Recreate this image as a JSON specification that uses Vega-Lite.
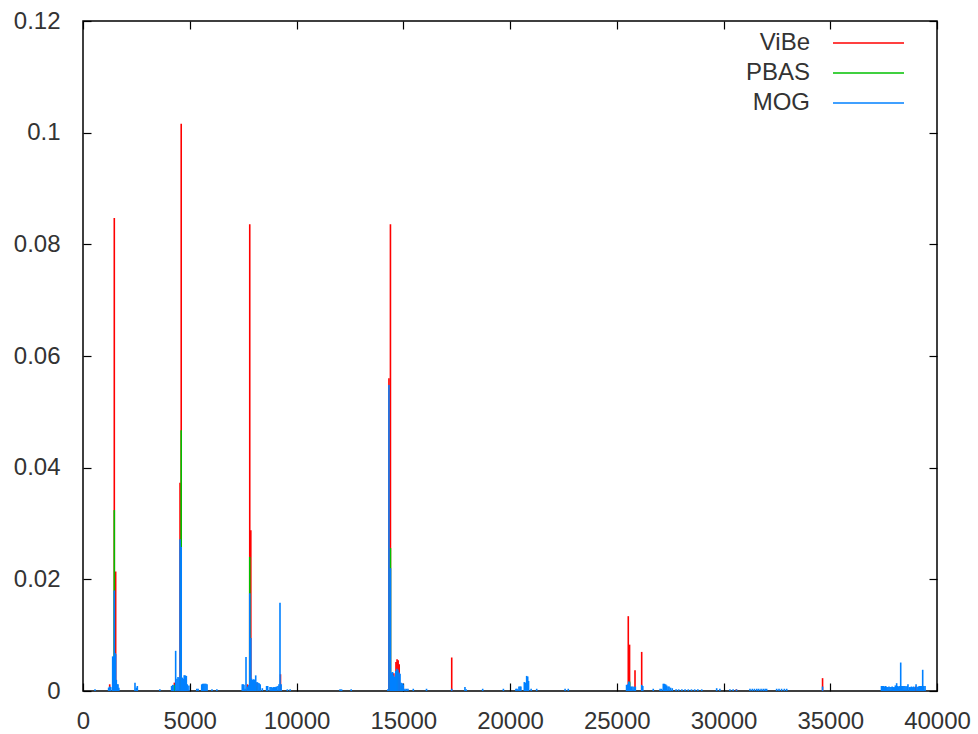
{
  "$schema": "https://vega.github.io/schema/vega-lite/v6.json",
  "autosize": {"type": "none"},
  "width": 854,
  "height": 670,
  "padding": {"left": 83, "top": 21, "right": 41, "bottom": 43},
  "background": "white",
  "config": {
    "view": {"stroke": "#000", "strokeWidth": 1.5},
    "font": "Liberation Sans",
    "axis": {
      "grid": false,
      "domain": false,
      "tickColor": "#000",
      "tickSize": -8,
      "tickWidth": 1.2,
      "labelFlush": false,
      "labelOverlap": false,
      "labelFont": "Liberation Sans",
      "labelFontSize": 24,
      "labelColor": "#333333",
      "title": null
    }
  },
  "data": {
    "values": [
      {"s":"ViBe","x":1250,"v":0.0012},{"s":"ViBe","x":1466,"v":0.0847},{"s":"ViBe","x":1530,"v":0.0214},{"s":"ViBe","x":4280,"v":0.0015},{"s":"ViBe","x":4545,"v":0.0373},{"s":"ViBe","x":4600,"v":0.1016},{"s":"ViBe","x":4780,"v":0.0015},{"s":"ViBe","x":7700,"v":0.0012},{"s":"ViBe","x":7810,"v":0.0836},{"s":"ViBe","x":7860,"v":0.0288},{"s":"ViBe","x":8150,"v":0.0015},{"s":"ViBe","x":9250,"v":0.003},{"s":"ViBe","x":14330,"v":0.056},{"s":"ViBe","x":14400,"v":0.0836},{"s":"ViBe","x":14560,"v":0.0032},{"s":"ViBe","x":14660,"v":0.0052},{"s":"ViBe","x":14710,"v":0.0057},{"s":"ViBe","x":14760,"v":0.0055},{"s":"ViBe","x":14810,"v":0.0048},{"s":"ViBe","x":17270,"v":0.006},{"s":"ViBe","x":25540,"v":0.0134},{"s":"ViBe","x":25600,"v":0.0083},{"s":"ViBe","x":25855,"v":0.0037},{"s":"ViBe","x":26168,"v":0.007},{"s":"ViBe","x":30600,"v":0.0003},{"s":"ViBe","x":34640,"v":0.0023},{"s":"ViBe","x":39000,"v":0.0008},
      {"s":"PBAS","x":1250,"v":0.0007},{"s":"PBAS","x":1466,"v":0.0324},{"s":"PBAS","x":4280,"v":0.0011},{"s":"PBAS","x":4600,"v":0.0467},{"s":"PBAS","x":4700,"v":0.0006},{"s":"PBAS","x":7810,"v":0.024},{"s":"PBAS","x":8100,"v":0.0008},{"s":"PBAS","x":14400,"v":0.0256},{"s":"PBAS","x":14450,"v":0.0016},{"s":"PBAS","x":14700,"v":0.0036},{"s":"PBAS","x":14900,"v":0.001},{"s":"PBAS","x":25600,"v":0.0017},
      {"s":"MOG","x":562,"v":0.0003},{"s":"MOG","x":1200,"v":0.0006},{"s":"MOG","x":1250,"v":0.0008},{"s":"MOG","x":1300,"v":0.0007},{"s":"MOG","x":1390,"v":0.0062},{"s":"MOG","x":1420,"v":0.006},{"s":"MOG","x":1440,"v":0.0062},{"s":"MOG","x":1466,"v":0.018},{"s":"MOG","x":1500,"v":0.0068},{"s":"MOG","x":1530,"v":0.0066},{"s":"MOG","x":1560,"v":0.002},{"s":"MOG","x":1600,"v":0.0012},{"s":"MOG","x":1640,"v":0.0012},{"s":"MOG","x":1680,"v":0.0006},{"s":"MOG","x":2435,"v":0.0015},{"s":"MOG","x":2500,"v":0.0006},{"s":"MOG","x":2545,"v":0.0009},{"s":"MOG","x":3600,"v":0.0003},{"s":"MOG","x":4150,"v":0.0009},{"s":"MOG","x":4200,"v":0.0011},{"s":"MOG","x":4240,"v":0.001},{"s":"MOG","x":4340,"v":0.0072},{"s":"MOG","x":4400,"v":0.0022},{"s":"MOG","x":4450,"v":0.0025},{"s":"MOG","x":4500,"v":0.0024},{"s":"MOG","x":4545,"v":0.0272},{"s":"MOG","x":4600,"v":0.0258},{"s":"MOG","x":4650,"v":0.0024},{"s":"MOG","x":4700,"v":0.0022},{"s":"MOG","x":4740,"v":0.0028},{"s":"MOG","x":4790,"v":0.0028},{"s":"MOG","x":4840,"v":0.0027},{"s":"MOG","x":4880,"v":0.0012},{"s":"MOG","x":4960,"v":0.001},{"s":"MOG","x":5330,"v":0.0004},{"s":"MOG","x":5390,"v":0.0004},{"s":"MOG","x":5560,"v":0.0012},{"s":"MOG","x":5610,"v":0.0013},{"s":"MOG","x":5660,"v":0.0013},{"s":"MOG","x":5710,"v":0.0013},{"s":"MOG","x":5760,"v":0.0013},{"s":"MOG","x":5810,"v":0.0012},{"s":"MOG","x":6040,"v":0.0003},{"s":"MOG","x":6270,"v":0.0003},{"s":"MOG","x":7460,"v":0.0012},{"s":"MOG","x":7500,"v":0.0012},{"s":"MOG","x":7540,"v":0.0011},{"s":"MOG","x":7590,"v":0.0004},{"s":"MOG","x":7635,"v":0.0061},{"s":"MOG","x":7700,"v":0.0008},{"s":"MOG","x":7760,"v":0.0011},{"s":"MOG","x":7810,"v":0.0175},{"s":"MOG","x":7860,"v":0.0095},{"s":"MOG","x":7900,"v":0.0022},{"s":"MOG","x":7950,"v":0.002},{"s":"MOG","x":8000,"v":0.0021},{"s":"MOG","x":8040,"v":0.002},{"s":"MOG","x":8090,"v":0.0028},{"s":"MOG","x":8150,"v":0.0016},{"s":"MOG","x":8200,"v":0.0015},{"s":"MOG","x":8250,"v":0.0014},{"s":"MOG","x":8300,"v":0.0012},{"s":"MOG","x":8400,"v":0.0005},{"s":"MOG","x":8600,"v":0.0009},{"s":"MOG","x":8650,"v":0.0009},{"s":"MOG","x":8760,"v":0.0007},{"s":"MOG","x":8810,"v":0.0007},{"s":"MOG","x":8860,"v":0.0006},{"s":"MOG","x":8910,"v":0.0007},{"s":"MOG","x":8960,"v":0.0007},{"s":"MOG","x":9010,"v":0.0007},{"s":"MOG","x":9060,"v":0.0008},{"s":"MOG","x":9130,"v":0.0009},{"s":"MOG","x":9180,"v":0.0012},{"s":"MOG","x":9227,"v":0.0158},{"s":"MOG","x":9280,"v":0.0012},{"s":"MOG","x":9570,"v":0.0003},{"s":"MOG","x":9700,"v":0.0003},{"s":"MOG","x":12040,"v":0.0003},{"s":"MOG","x":12110,"v":0.0003},{"s":"MOG","x":12560,"v":0.0003},{"s":"MOG","x":14280,"v":0.0003},{"s":"MOG","x":14330,"v":0.0548},{"s":"MOG","x":14400,"v":0.022},{"s":"MOG","x":14450,"v":0.0033},{"s":"MOG","x":14500,"v":0.0034},{"s":"MOG","x":14550,"v":0.0028},{"s":"MOG","x":14600,"v":0.0025},{"s":"MOG","x":14650,"v":0.0036},{"s":"MOG","x":14700,"v":0.004},{"s":"MOG","x":14750,"v":0.0038},{"s":"MOG","x":14800,"v":0.0033},{"s":"MOG","x":14850,"v":0.0031},{"s":"MOG","x":14900,"v":0.0015},{"s":"MOG","x":14950,"v":0.0014},{"s":"MOG","x":15000,"v":0.0012},{"s":"MOG","x":15080,"v":0.0004},{"s":"MOG","x":15150,"v":0.0004},{"s":"MOG","x":15220,"v":0.0004},{"s":"MOG","x":15470,"v":0.0004},{"s":"MOG","x":16090,"v":0.0004},{"s":"MOG","x":17270,"v":0.0004},{"s":"MOG","x":17890,"v":0.0007},{"s":"MOG","x":17950,"v":0.0003},{"s":"MOG","x":18720,"v":0.0004},{"s":"MOG","x":19690,"v":0.0004},{"s":"MOG","x":20280,"v":0.0004},{"s":"MOG","x":20330,"v":0.0004},{"s":"MOG","x":20420,"v":0.0008},{"s":"MOG","x":20470,"v":0.0008},{"s":"MOG","x":20510,"v":0.0008},{"s":"MOG","x":20670,"v":0.0016},{"s":"MOG","x":20720,"v":0.0015},{"s":"MOG","x":20780,"v":0.0027},{"s":"MOG","x":20830,"v":0.0026},{"s":"MOG","x":20870,"v":0.0018},{"s":"MOG","x":20990,"v":0.0004},{"s":"MOG","x":21250,"v":0.0004},{"s":"MOG","x":22580,"v":0.0004},{"s":"MOG","x":22730,"v":0.0004},{"s":"MOG","x":25460,"v":0.0011},{"s":"MOG","x":25510,"v":0.0012},{"s":"MOG","x":25560,"v":0.0017},{"s":"MOG","x":25600,"v":0.0015},{"s":"MOG","x":25650,"v":0.0008},{"s":"MOG","x":25700,"v":0.0008},{"s":"MOG","x":25760,"v":0.0008},{"s":"MOG","x":25820,"v":0.0007},{"s":"MOG","x":25870,"v":0.0008},{"s":"MOG","x":26170,"v":0.0011},{"s":"MOG","x":26220,"v":0.0009},{"s":"MOG","x":26710,"v":0.0004},{"s":"MOG","x":27030,"v":0.0004},{"s":"MOG","x":27100,"v":0.0004},{"s":"MOG","x":27180,"v":0.0013},{"s":"MOG","x":27230,"v":0.0013},{"s":"MOG","x":27290,"v":0.0012},{"s":"MOG","x":27340,"v":0.001},{"s":"MOG","x":27400,"v":0.0008},{"s":"MOG","x":27450,"v":0.0008},{"s":"MOG","x":27520,"v":0.0006},{"s":"MOG","x":27600,"v":0.0005},{"s":"MOG","x":27780,"v":0.0003},{"s":"MOG","x":27900,"v":0.0003},{"s":"MOG","x":28050,"v":0.0003},{"s":"MOG","x":28200,"v":0.0003},{"s":"MOG","x":28350,"v":0.0003},{"s":"MOG","x":28500,"v":0.0003},{"s":"MOG","x":28650,"v":0.0003},{"s":"MOG","x":28800,"v":0.0003},{"s":"MOG","x":28980,"v":0.0003},{"s":"MOG","x":29680,"v":0.0005},{"s":"MOG","x":29830,"v":0.0004},{"s":"MOG","x":30300,"v":0.0003},{"s":"MOG","x":30450,"v":0.0003},{"s":"MOG","x":30610,"v":0.0003},{"s":"MOG","x":31240,"v":0.0004},{"s":"MOG","x":31350,"v":0.0004},{"s":"MOG","x":31450,"v":0.0004},{"s":"MOG","x":31560,"v":0.0004},{"s":"MOG","x":31650,"v":0.0004},{"s":"MOG","x":31760,"v":0.0004},{"s":"MOG","x":31860,"v":0.0004},{"s":"MOG","x":31950,"v":0.0004},{"s":"MOG","x":32020,"v":0.0004},{"s":"MOG","x":32490,"v":0.0004},{"s":"MOG","x":32600,"v":0.0004},{"s":"MOG","x":32720,"v":0.0004},{"s":"MOG","x":32850,"v":0.0004},{"s":"MOG","x":32960,"v":0.0004},{"s":"MOG","x":34640,"v":0.0008},{"s":"MOG","x":37400,"v":0.0009},{"s":"MOG","x":37450,"v":0.0009},{"s":"MOG","x":37500,"v":0.0009},{"s":"MOG","x":37550,"v":0.0008},{"s":"MOG","x":37600,"v":0.0009},{"s":"MOG","x":37650,"v":0.0007},{"s":"MOG","x":37700,"v":0.0007},{"s":"MOG","x":37750,"v":0.0008},{"s":"MOG","x":37800,"v":0.0007},{"s":"MOG","x":37850,"v":0.0007},{"s":"MOG","x":37900,"v":0.0008},{"s":"MOG","x":37950,"v":0.0007},{"s":"MOG","x":38000,"v":0.0007},{"s":"MOG","x":38050,"v":0.001},{"s":"MOG","x":38110,"v":0.0014},{"s":"MOG","x":38160,"v":0.0009},{"s":"MOG","x":38210,"v":0.0008},{"s":"MOG","x":38260,"v":0.0009},{"s":"MOG","x":38300,"v":0.0051},{"s":"MOG","x":38350,"v":0.0009},{"s":"MOG","x":38400,"v":0.0009},{"s":"MOG","x":38450,"v":0.0009},{"s":"MOG","x":38500,"v":0.0009},{"s":"MOG","x":38550,"v":0.0008},{"s":"MOG","x":38600,"v":0.0009},{"s":"MOG","x":38640,"v":0.0012},{"s":"MOG","x":38700,"v":0.0007},{"s":"MOG","x":38750,"v":0.0007},{"s":"MOG","x":38800,"v":0.0008},{"s":"MOG","x":38850,"v":0.0007},{"s":"MOG","x":38900,"v":0.0008},{"s":"MOG","x":38950,"v":0.0007},{"s":"MOG","x":39020,"v":0.0012},{"s":"MOG","x":39070,"v":0.0007},{"s":"MOG","x":39120,"v":0.0008},{"s":"MOG","x":39170,"v":0.0009},{"s":"MOG","x":39220,"v":0.0009},{"s":"MOG","x":39280,"v":0.0009},{"s":"MOG","x":39330,"v":0.0038},{"s":"MOG","x":39380,"v":0.0009},{"s":"MOG","x":39440,"v":0.0009}
    ]
  },
  "layer": [
    {
      "mark": {"type": "rule", "strokeWidth": 1.6},
      "encoding": {
        "x": {"field": "x", "type": "quantitative", "scale": {"domain": [0, 40000], "nice": false, "zero": false},
              "axis": {"orient": "bottom", "values": [0,5000,10000,15000,20000,25000,30000,35000,40000], "format": "d", "labelPadding": 26}},
        "y": {"field": "v", "type": "quantitative", "scale": {"domain": [0, 0.12], "nice": false},
              "axis": {"orient": "left", "values": [0,0.02,0.04,0.06,0.08,0.1,0.12], "labelExpr": "'' + datum.value", "labelPadding": 31}},
        "y2": {"datum": 0},
        "color": {"field": "s", "type": "nominal",
                  "scale": {"domain": ["ViBe", "PBAS", "MOG"], "range": ["#ff0000", "#00c000", "#0080ff"]},
                  "legend": {"orient": "none", "legendX": 772.5, "legendY": 9, "title": null, "padding": 0,
                             "symbolType": "M-2.958,0H2.958", "symbolSize": 576, "symbolStrokeWidth": 1.5,
                             "labelAlign": "right", "labelOffset": -71.5, "labelFontSize": 24, "labelFont": "Liberation Sans",
                             "labelColor": "#333333", "labelLimit": 0, "rowPadding": 5}}
      }
    },
    {
      "mark": {"type": "rule", "opacity": 0},
      "encoding": {
        "x": {"field": "x", "type": "quantitative", "scale": {"domain": [0, 40000], "nice": false, "zero": false},
              "axis": {"orient": "top", "values": [0,5000,10000,15000,20000,25000,30000,35000,40000], "labels": false}},
        "y": {"field": "v", "type": "quantitative", "scale": {"domain": [0, 0.12], "nice": false},
              "axis": {"orient": "right", "values": [0,0.02,0.04,0.06,0.08,0.1,0.12], "labels": false}},
        "y2": {"datum": 0}
      }
    }
  ],
  "resolve": {"axis": {"x": "independent", "y": "independent"}}
}
